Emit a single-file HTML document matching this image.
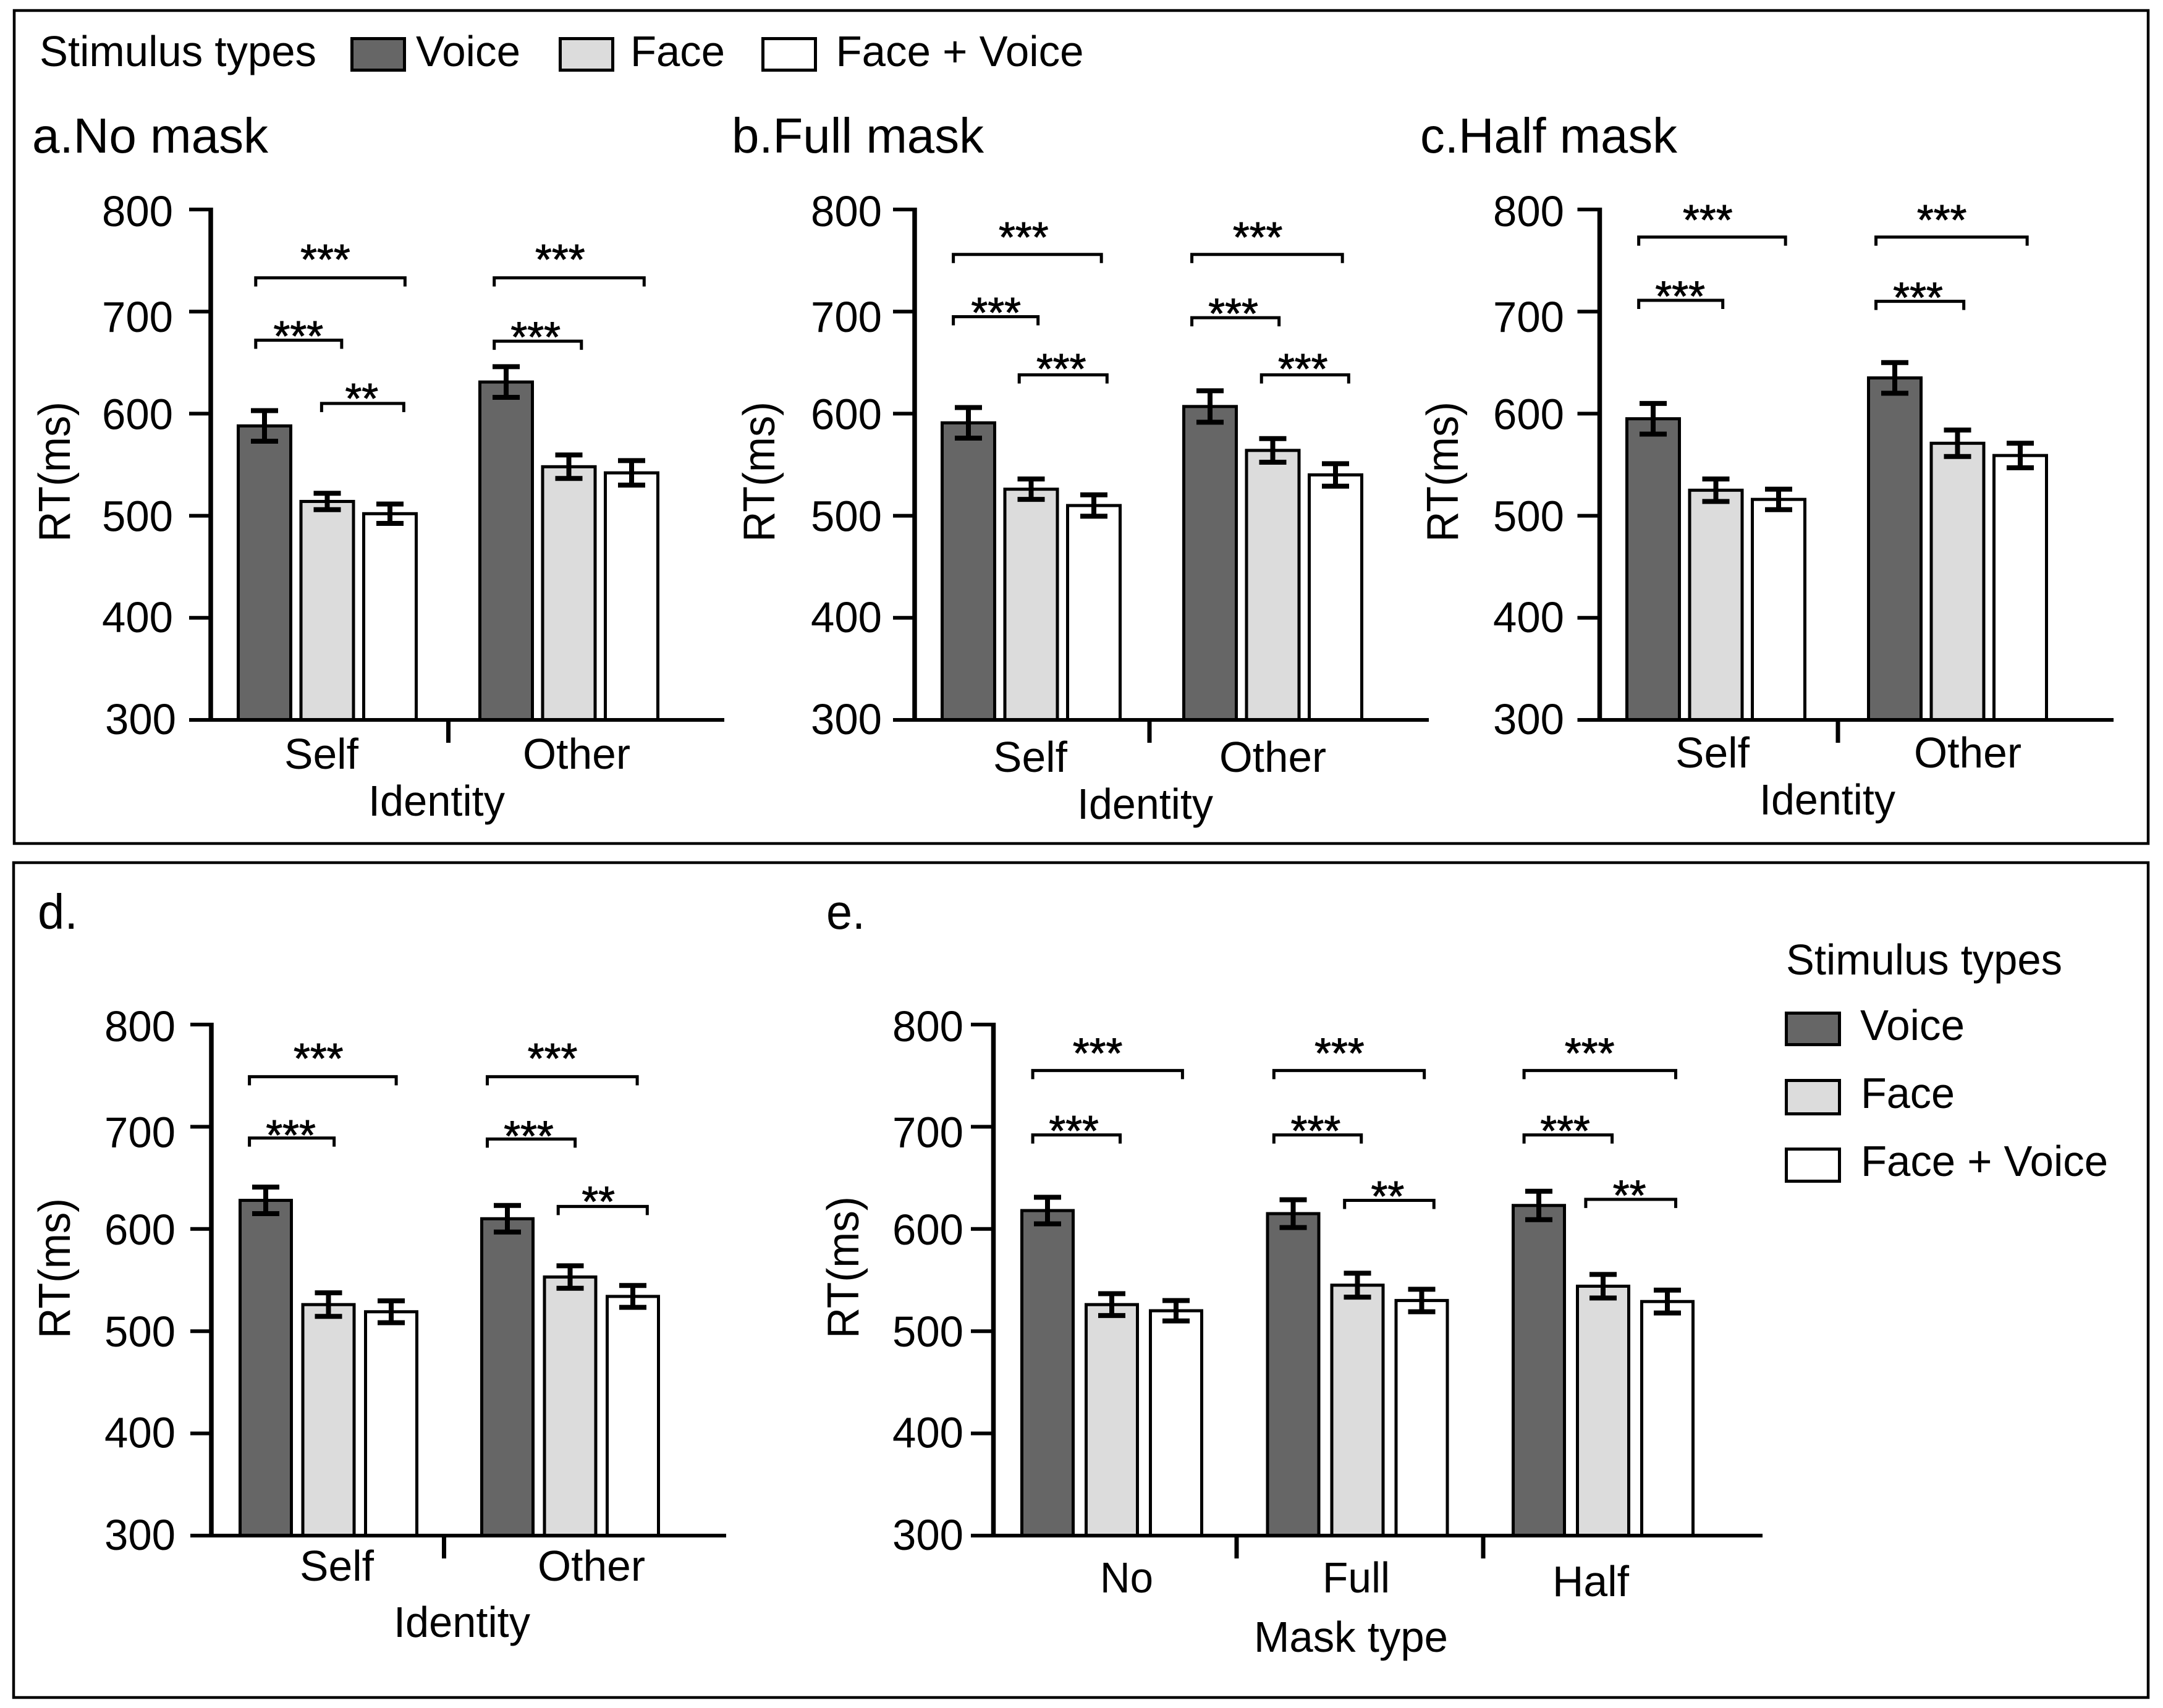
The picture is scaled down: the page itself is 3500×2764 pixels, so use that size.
<!DOCTYPE html>
<html lang="en">
<head>
<meta charset="utf-8">
<title>Reaction time by stimulus type</title>
<style>
html,body{margin:0;padding:0;background:#fff;}
svg{display:block;}
text{font-family:"Liberation Sans",sans-serif;fill:#000;}
</style>
</head>
<body>
<svg id="figure" xmlns="http://www.w3.org/2000/svg" width="3500" height="2764" viewBox="0 0 3500 2764">
  <rect x="0" y="0" width="3500" height="2764" fill="#fff"/>
  <rect x="23" y="17" width="3453" height="1348" fill="none" stroke="#000" stroke-width="4.5"/>
  <rect x="22" y="1396" width="3454" height="1351" fill="none" stroke="#000" stroke-width="4.5"/>

  <g>
    <text x="64" y="107" font-size="70" textLength="448" lengthAdjust="spacingAndGlyphs">Stimulus types</text>
    <rect x="569.5" y="62.5" width="85" height="51" fill="#666" stroke="#000" stroke-width="5"/>
    <text x="673" y="107" font-size="70" textLength="169" lengthAdjust="spacingAndGlyphs">Voice</text>
    <rect x="906.5" y="62.5" width="85" height="51" fill="#dcdcdc" stroke="#000" stroke-width="5"/>
    <text x="1020" y="107" font-size="70" textLength="153" lengthAdjust="spacingAndGlyphs">Face</text>
    <rect x="1234.5" y="62.5" width="85" height="51" fill="#fff" stroke="#000" stroke-width="5"/>
    <text x="1352.5" y="107" font-size="70" textLength="401" lengthAdjust="spacingAndGlyphs">Face + Voice</text>
  </g>

  <text x="52" y="247" font-size="80" textLength="382" lengthAdjust="spacingAndGlyphs">a.No mask</text>
  <text x="1184" y="247" font-size="80" textLength="408" lengthAdjust="spacingAndGlyphs">b.Full mask</text>
  <text x="2298" y="247" font-size="80" textLength="416" lengthAdjust="spacingAndGlyphs">c.Half mask</text>
  <text x="61" y="1503" font-size="80" textLength="65" lengthAdjust="spacingAndGlyphs">d.</text>
  <text x="1337" y="1503" font-size="80" textLength="63" lengthAdjust="spacingAndGlyphs">e.</text>

  <text transform="translate(113 877) rotate(-90)" font-size="72" textLength="227" lengthAdjust="spacingAndGlyphs">RT(ms)</text>
  <text transform="translate(1253 877) rotate(-90)" font-size="72" textLength="227" lengthAdjust="spacingAndGlyphs">RT(ms)</text>
  <text transform="translate(2359 877) rotate(-90)" font-size="72" textLength="227" lengthAdjust="spacingAndGlyphs">RT(ms)</text>
  <text transform="translate(113 2166) rotate(-90)" font-size="72" textLength="227" lengthAdjust="spacingAndGlyphs">RT(ms)</text>
  <text transform="translate(1389 2166) rotate(-90)" font-size="72" textLength="230" lengthAdjust="spacingAndGlyphs">RT(ms)</text>

  <text x="596" y="1320" font-size="70" textLength="221" lengthAdjust="spacingAndGlyphs">Identity</text>
  <text x="1743" y="1325" font-size="70" textLength="220" lengthAdjust="spacingAndGlyphs">Identity</text>
  <text x="2847" y="1318" font-size="70" textLength="220" lengthAdjust="spacingAndGlyphs">Identity</text>
  <text x="637" y="2649" font-size="70" textLength="221" lengthAdjust="spacingAndGlyphs">Identity</text>
  <text x="2029" y="2673" font-size="70" textLength="314" lengthAdjust="spacingAndGlyphs">Mask type</text>

  <g>
    <text x="2890" y="1577" font-size="70" textLength="447" lengthAdjust="spacingAndGlyphs">Stimulus types</text>
    <rect x="2890.5" y="1639.5" width="86" height="51" fill="#666" stroke="#000" stroke-width="5"/>
    <text x="3010" y="1683" font-size="70" textLength="169" lengthAdjust="spacingAndGlyphs">Voice</text>
    <rect x="2890.5" y="1748.5" width="86" height="54" fill="#dcdcdc" stroke="#000" stroke-width="5"/>
    <text x="3011" y="1793" font-size="70" textLength="152" lengthAdjust="spacingAndGlyphs">Face</text>
    <rect x="2890.5" y="1859.5" width="86" height="52" fill="#fff" stroke="#000" stroke-width="5"/>
    <text x="3011" y="1903" font-size="70" textLength="400" lengthAdjust="spacingAndGlyphs">Face + Voice</text>
  </g>

  <g id="plots"></g>
</svg>

<script>
// ---- shared categories and ticks ----
const identityCategories = ['Self', 'Other'];
const maskCategories = ['No', 'Full', 'Half'];
const seriesNames = ['Voice', 'Face', 'Face + Voice'];
const yTickValues = [300, 400, 500, 600, 700, 800];

// ---- panel a: no mask ----
const aVoice = [588, 631];
const aFace = [514, 548];
const aBoth = [502, 542];
const aVoiceErr = [15, 15];
const aFaceErr = [8, 11.5];
const aBothErr = [9.5, 12];
// [group, from bar slot, to bar slot, level (ms), stars, star slot, star level (ms)]
const aBrackets = [
  [0, -0.14, 2.24, 733, '***', 0.97, 756],
  [0, -0.14, 1.23, 672, '***', 0.54, 681],
  [0, 0.91, 2.22, 610, '**', 1.55, 620],
  [1, -0.19, 2.2, 733, '***', 0.86, 756],
  [1, -0.19, 1.2, 671, '***', 0.47, 680]
];

// ---- panel b: full mask ----
const bVoice = [591, 607];
const bFace = [526, 564];
const bBoth = [510, 540];
const bVoiceErr = [15, 15.4];
const bFaceErr = [10, 11.6];
const bBothErr = [10.5, 11];
const bBrackets = [
  [0, -0.24, 2.12, 756, '***', 0.88, 778],
  [0, -0.24, 1.11, 695, '***', 0.44, 704],
  [0, 0.81, 2.21, 638, '***', 1.48, 649],
  [1, -0.29, 2.11, 756, '***', 0.76, 778],
  [1, -0.29, 1.1, 694, '***', 0.37, 703],
  [1, 0.82, 2.21, 638, '***', 1.48, 649]
];

// ---- panel c: half mask ----
const cVoice = [595, 635];
const cFace = [525, 571];
const cBoth = [516, 559];
const cVoiceErr = [15, 15];
const cFaceErr = [11, 13];
const cBothErr = [10, 12];
const cBrackets = [
  [0, -0.23, 2.11, 773, '***', 0.87, 795],
  [0, -0.23, 1.11, 711, '***', 0.43, 720],
  [1, -0.3, 2.11, 773, '***', 0.75, 795],
  [1, -0.3, 1.1, 710, '***', 0.37, 719]
];

// ---- panel d: identity overall ----
const dVoice = [628, 610];
const dFace = [526, 553];
const dBoth = [519, 534];
const dVoiceErr = [13, 13];
const dFaceErr = [11.5, 11];
const dBothErr = [10.7, 10.7];
const dBrackets = [
  [0, -0.26, 2.08, 749, '***', 0.84, 772],
  [0, -0.26, 1.09, 689, '***', 0.4, 697],
  [1, -0.32, 2.07, 749, '***', 0.72, 772],
  [1, -0.32, 1.08, 688, '***', 0.34, 696],
  [1, 0.81, 2.23, 622, '**', 1.45, 632]
];

// ---- panel e: mask type ----
const eVoice = [618, 615, 623];
const eFace = [526, 545, 544];
const eBoth = [520, 530, 529];
const eVoiceErr = [13, 13.6, 13.9];
const eFaceErr = [10.7, 11.7, 11.5];
const eBothErr = [10, 11, 11.2];
const eBrackets = [
  [0, -0.23, 2.1, 755, '***', 0.78, 777],
  [0, -0.23, 1.13, 692, '***', 0.41, 701],
  [1, -0.3, 2.04, 755, '***', 0.72, 777],
  [1, -0.3, 1.06, 692, '***', 0.35, 701],
  [1, 0.8, 2.19, 628, '**', 1.47, 637],
  [2, -0.23, 2.13, 755, '***', 0.79, 777],
  [2, -0.23, 1.14, 692, '***', 0.41, 701],
  [2, 0.73, 2.13, 629, '**', 1.41, 638]
];

// ---- drawing layout (not data) ----
const fills = ['#666', '#dcdcdc', '#fff'];
const SVG_NS = 'http://www.w3.org/2000/svg';
const plotsRoot = document.getElementById('plots');

function make(tag, parent, attrs) {
  const el = document.createElementNS(SVG_NS, tag);
  for (const k in attrs) el.setAttribute(k, attrs[k]);
  parent.appendChild(el);
  return el;
}

function drawPanel(p) {
  const group = make('g', plotsRoot, {});
  
  

  const yScale = v => p.y300 - (v - 300) * (p.y300 - p.y800) / 500;
  const xScale = (g, slot) => p.first + g * p.groupStep + slot * p.pitch;

  // bars and error bars
  p.series.forEach((values, s) => {
    values.forEach((v, g) => {
      const cx = xScale(g, s);
      const top = yScale(v);
      const bar = make('rect', group, {
        x: cx - p.barW / 2, y: top, width: p.barW, height: p.y300 - top,
        fill: fills[s], stroke: '#000', 'stroke-width': 5
      });
      
      
    });
  });
  p.series.forEach((values, s) => {
    values.forEach((v, g) => {
      const cx = xScale(g, s);
      const e = p.errors[s][g];
      const hi = yScale(v + e);
      const lo = yScale(v - e);
      const err = make('path', group, {
        d: 'M' + (cx - 22) + ' ' + hi + 'H' + (cx + 22) + 'M' + cx + ' ' + hi + 'V' + lo + 'M' + (cx - 22) + ' ' + lo + 'H' + (cx + 22),
        fill: 'none', stroke: '#000', 'stroke-width': 8
      });
      
      
    });
  });

  // y axis
  const yAxis = make('line', group, {
    x1: p.axisX, x2: p.axisX, y1: yScale(800) - 3, y2: p.y300 + 3, stroke: '#000', 'stroke-width': 7.5
  });
  
  

  const labelNudge = { 800: 2, 700: 8, 600: 0, 500: 0, 400: -2, 300: -2 };
  yTickValues.forEach(t => {
    const ty = yScale(t);
    const tick = make('line', group, {
      x1: p.tickLeft, x2: p.axisX, y1: ty, y2: ty, stroke: '#000', 'stroke-width': 6
    });
    
    
    const lab = make('text', group, {
      x: p.tickLabelX - 3 + (p.id === 'a' && t === 300 ? 5 : 0), y: ty + 25 + labelNudge[t], 'font-size': 70,
      textLength: 115, lengthAdjust: 'spacingAndGlyphs'
    });
    lab.textContent = String(t);
    
    
  });

  // x axis
  const xAxis = make('line', group, {
    x1: p.tickLeft, x2: p.axisRight, y1: p.y300, y2: p.y300, stroke: '#000', 'stroke-width': 6
  });
  
  

  p.separators.forEach((sx, i) => {
    const sep = make('line', group, {
      x1: sx, x2: sx, y1: p.y300, y2: p.y300 + 37, stroke: '#000', 'stroke-width': 7
    });
    
    
  });

  p.categories.forEach((c, i) => {
    const cat = make('text', group, {
      x: p.catX[i] - 2, y: p.catY[i] + 1, 'font-size': 70,
      textLength: p.catW[i] + 4, lengthAdjust: 'spacingAndGlyphs'
    });
    cat.textContent = c;
    
    
  });

  // significance brackets
  p.brackets.forEach((b, i) => {
    const x1 = xScale(b[0], b[1]);
    const x2 = xScale(b[0], b[2]);
    const by = yScale(b[3]);
    const br = make('path', group, {
      d: 'M' + x1 + ' ' + (by + 14) + 'V' + by + 'H' + x2 + 'V' + (by + 14),
      fill: 'none', stroke: '#000', 'stroke-width': 5
    });
    
    
    const st = make('text', group, {
      x: xScale(b[0], b[5]), y: yScale(b[6]) + 32, 'font-size': 69, 'text-anchor': 'middle',
      stroke: '#000', 'stroke-width': 1
    });
    st.textContent = b[4];
    
    
  });
}

drawPanel({
  id: 'a', categories: identityCategories, series: [aVoice, aFace, aBoth], errors: [aVoiceErr, aFaceErr, aBothErr], brackets: aBrackets,
  axisX: 341, tickLeft: 306, axisRight: 1172, y800: 339, y300: 1165, first: 428, pitch: 101.5, groupStep: 391, barW: 85,
  tickLabelX: 168, separators: [725.5], catX: [462, 848], catW: [116, 170], catY: [1243, 1243]
});
drawPanel({
  id: 'b', categories: identityCategories, series: [bVoice, bFace, bBoth], errors: [bVoiceErr, bFaceErr, bBothErr], brackets: bBrackets,
  axisX: 1480, tickLeft: 1445, axisRight: 2312, y800: 339, y300: 1165, first: 1567, pitch: 101.5, groupStep: 391, barW: 85,
  tickLabelX: 1315, separators: [1860], catX: [1609, 1975], catW: [116, 169], catY: [1248, 1248]
});
drawPanel({
  id: 'c', categories: identityCategories, series: [cVoice, cFace, cBoth], errors: [cVoiceErr, cFaceErr, cBothErr], brackets: cBrackets,
  axisX: 2588.5, tickLeft: 2552.5, axisRight: 3420, y800: 339, y300: 1165, first: 2675, pitch: 101.5, groupStep: 391, barW: 85,
  tickLabelX: 2419, separators: [2974], catX: [2713, 3099], catW: [116, 170], catY: [1241, 1241]
});
drawPanel({
  id: 'd', categories: identityCategories, series: [dVoice, dFace, dBoth], errors: [dVoiceErr, dFaceErr, dBothErr], brackets: dBrackets,
  axisX: 342, tickLeft: 308, axisRight: 1175, y800: 1658, y300: 2485, first: 430, pitch: 101.5, groupStep: 391, barW: 83,
  tickLabelX: 172, separators: [718.5], catX: [487, 872], catW: [116, 170], catY: [2557, 2557]
});
drawPanel({
  id: 'e', categories: maskCategories, series: [eVoice, eFace, eBoth], errors: [eVoiceErr, eFaceErr, eBothErr], brackets: eBrackets,
  axisX: 1607.5, tickLeft: 1571, axisRight: 2852, y800: 1658, y300: 2485, first: 1695, pitch: 104, groupStep: 397.5, barW: 83,
  tickLabelX: 1447, separators: [2001, 2400], catX: [1782, 2142, 2514], catW: [82, 105, 120], catY: [2576, 2576, 2582]
});
</script>
</body>
</html>
